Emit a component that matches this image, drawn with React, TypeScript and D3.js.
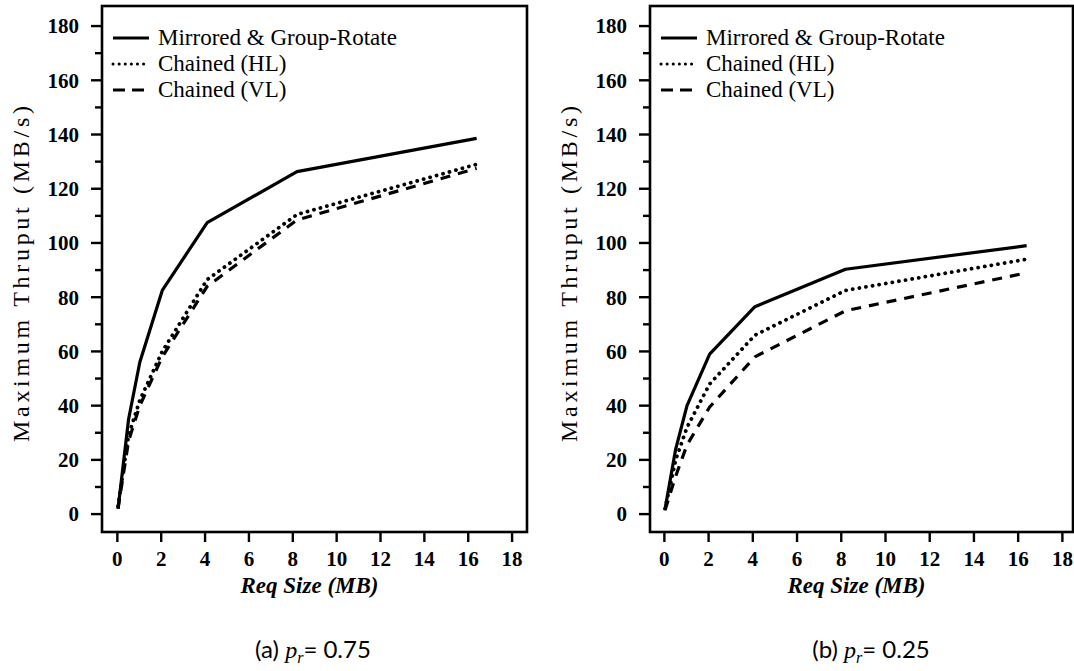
import React from 'react';
import * as d3 from 'd3';

// request sizes (MB) and max throughput (MB/s)
const reqSizes = [0.032, 0.512, 1.024, 2.048, 4.096, 8.192, 16.384];

const mirroredA = [2, 35, 56, 82.5, 107.5, 126.3, 138.6];
const chainedHLA = [3, 29, 42, 60, 86.5, 110.5, 129];
const chainedVLA = [2, 27, 40, 58, 84, 108.5, 127.5];

const mirroredB = [2, 24, 40, 59, 76.5, 90.3, 99];
const chainedHLB = [2, 20, 32, 48, 66, 82.5, 94];
const chainedVLB = [1.5, 14, 25.5, 39.5, 58, 75, 89];

const seriesNames = ['Mirrored & Group-Rotate', 'Chained (HL)', 'Chained (VL)'];
const xTicks = [0, 2, 4, 6, 8, 10, 12, 14, 16, 18];
const yTicks = [0, 20, 40, 60, 80, 100, 120, 140, 160, 180];
const yMinorTicks = [10, 30, 50, 70, 90, 110, 130, 150, 170];

const styles = [
  { dash: null, cap: 'butt' },
  { dash: '0.1,6.6', cap: 'round' },
  { dash: '10,8', cap: 'butt' },
];
const legendDash = [null, '0.1,6', '12,7'];

const serif = '"Liberation Serif", "Times New Roman", serif';

function Panel({ left, right, xDomain, series, caption, captionX }) {
  const top = 6;
  const bottom = 532;
  const x = d3.scaleLinear().domain(xDomain).range([left, right]);
  const y = d3.scaleLinear().domain([-6.6, 187.4]).range([bottom, top]);
  const line = d3
    .line<number>()
    .x((_, i) => x(reqSizes[i]))
    .y((d) => y(d));
  const midX = (left + right) / 2;

  return (
    <g>
      {/* curves */}
      {series.map((s, i) => (
        <path
          key={i}
          d={line(s) || ''}
          fill="none"
          stroke="#000"
          strokeWidth={i === 1 ? 3.8 : 3.2}
          strokeDasharray={styles[i].dash || undefined}
          strokeLinecap={styles[i].cap as any}
          strokeLinejoin="round"
        />
      ))}

      {/* frame */}
      <rect
        x={left}
        y={top}
        width={right - left}
        height={bottom - top}
        fill="none"
        stroke="#000"
        strokeWidth={2.6}
      />

      {/* y ticks */}
      {yTicks.map((t) => (
        <g key={t}>
          <line x1={left - 11} x2={left} y1={y(t)} y2={y(t)} stroke="#000" strokeWidth={2.4} />
          <text
            x={left - 23}
            y={y(t)}
            dy="0.35em"
            textAnchor="end"
            fontFamily={serif}
            fontWeight="bold"
            fontSize={21}
          >
            {t}
          </text>
        </g>
      ))}
      {yMinorTicks.map((t) => (
        <line key={t} x1={left - 7} x2={left} y1={y(t)} y2={y(t)} stroke="#000" strokeWidth={2.4} />
      ))}

      {/* x ticks */}
      {xTicks.map((t) => (
        <g key={t}>
          <line x1={x(t)} x2={x(t)} y1={bottom} y2={bottom + 10} stroke="#000" strokeWidth={2.4} />
          <text
            x={x(t)}
            y={566}
            textAnchor="middle"
            fontFamily={serif}
            fontWeight="bold"
            fontSize={21}
          >
            {t}
          </text>
        </g>
      ))}

      {/* axis titles */}
      <text
        x={midX - 5}
        y={593}
        textAnchor="middle"
        fontFamily={serif}
        fontStyle="italic"
        fontWeight="bold"
        fontSize={23}
      >
        Req Size (MB)
      </text>
      <text
        transform={`translate(${left - 73},274) rotate(-90)`}
        textAnchor="middle"
        fontFamily={serif}
        fontSize={24}
        textLength={336}
        lengthAdjust="spacing"
      >
        Maximum Thruput (MB/s)
      </text>

      {/* legend */}
      {seriesNames.map((name, i) => {
        const ly = 38 + i * 26;
        return (
          <g key={name}>
            <line
              x1={left + 11}
              x2={left + 47}
              y1={ly}
              y2={ly}
              stroke="#000"
              strokeWidth={3}
              strokeDasharray={legendDash[i] || undefined}
              strokeLinecap={i === 1 ? 'round' : 'butt'}
            />
            <text x={left + 56} y={ly + 7} fontFamily={serif} fontSize={23}>
              {name}
            </text>
          </g>
        );
      })}

      {/* caption */}
      <text
        x={captionX}
        y={658}
        textAnchor="middle"
        fontFamily='Lato, "Open Sans", sans-serif'
        fontSize={24}
      >
        {caption[0]}{' '}
        <tspan fontFamily={serif} fontStyle="italic">p</tspan>
        <tspan fontFamily={serif} fontStyle="italic" fontSize={16} dy={5}>r</tspan>
        <tspan dy={-5}>= {caption[1]}</tspan>
      </text>
    </g>
  );
}

export default function App() {
  return (
    <svg
      width={1074}
      height={671}
      style={{ position: 'absolute', left: 0, top: 0, background: '#fff' }}
    >
      <Panel
        left={102}
        right={527}
        xDomain={[-0.7, 18.68]}
        series={[mirroredA, chainedHLA, chainedVLA]}
        caption={['(a)', '0.75']}
        captionX={313}
      />
      <Panel
        left={650}
        right={1073}
        xDomain={[-0.65, 18.48]}
        series={[mirroredB, chainedHLB, chainedVLB]}
        caption={['(b)', '0.25']}
        captionX={871}
      />
    </svg>
  );
}
